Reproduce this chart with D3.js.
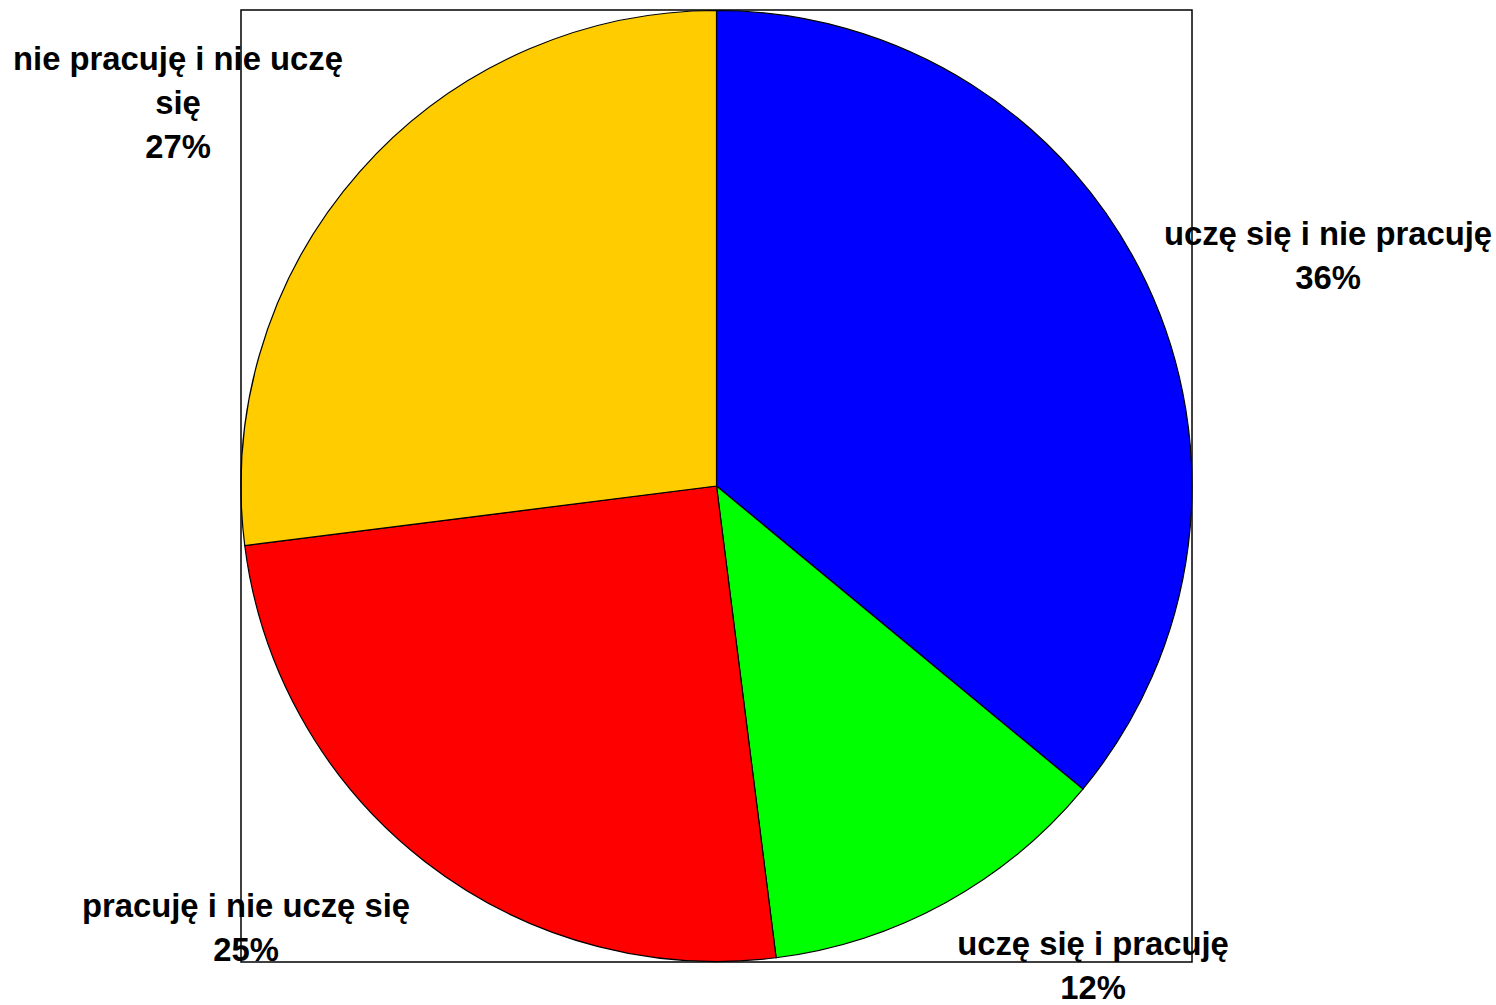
<!DOCTYPE html>
<html>
<head>
<meta charset="utf-8">
<script src="https://cdn.jsdelivr.net/npm/d3@7"></script>
<style>
  html, body { margin: 0; padding: 0; background: #fff; }
  svg { display: block; }
  .lbl { font-family: "Liberation Sans", Arial, sans-serif; font-weight: bold; font-size: 32.8px; fill: #000; }
</style>
</head>
<body>
<div id="vis"></div>
<script>
// slices, clockwise from 12 o'clock
var categories = ["uczę się i nie pracuję", "uczę się i pracuję", "pracuję i nie uczę się", "nie pracuję i nie uczę się"];
var shares = [36, 12, 25, 27];
var colours = ["#0000ff", "#00ff00", "#ff0000", "#ffcc00"];

var width = 1496, height = 1005;
// plot area (square frame around the pie)
var frame = {x: 241, y: 10, w: 951, h: 952};
var cx = frame.x + frame.w / 2, cy = frame.y + frame.h / 2;
var radius = frame.w / 2;

// label anchors: centre x and first baseline, one per slice
var labelPos = [[1328, 245], [1093, 955], [246, 917], [178, 70]];
var lineStep = 44;
var wrapWidth = 350;

var svg = d3.select("#vis").append("svg")
    .attr("width", width)
    .attr("height", height);

var data = categories.map(function(c, i){ return {name: c, value: shares[i], colour: colours[i]}; });

var pie = d3.pie().sort(null).value(function(d){ return d.value; });
var arc = d3.arc().innerRadius(0).outerRadius(radius);

var g = svg.append("g").attr("transform", "translate(" + cx + "," + cy + ")");

g.selectAll(".slice")
    .data(pie(data))
    .enter()
    .append("path")
    .attr("class", "slice")
    .attr("d", arc)
    .attr("fill", function(d){ return d.data.colour; })
    .attr("stroke", "#000")
    .attr("stroke-width", 1.2);

// labels with simple word wrap
var total = d3.sum(shares);
data.forEach(function(d, i){
    var t = svg.append("text")
        .attr("class", "lbl")
        .attr("text-anchor", "middle");
    var words = d.name.split(" ");
    var lines = [];
    var cur = [];
    var probe = t.append("tspan");
    words.forEach(function(w){
        var test = cur.concat([w]).join(" ");
        probe.text(test);
        if (probe.node().getComputedTextLength() > wrapWidth && cur.length){
            lines.push(cur.join(" "));
            cur = [w];
        } else {
            cur.push(w);
        }
    });
    lines.push(cur.join(" "));
    probe.remove();
    lines.push(Math.round(d.value / total * 100) + "%");

    lines.forEach(function(line, k){
        t.append("tspan")
            .attr("x", labelPos[i][0])
            .attr("y", labelPos[i][1] + k * lineStep)
            .text(line);
    });
});

// frame drawn last, it shows over the labels
svg.append("rect")
    .attr("x", frame.x)
    .attr("y", frame.y)
    .attr("width", frame.w)
    .attr("height", frame.h)
    .attr("fill", "none")
    .attr("stroke", "#000")
    .attr("stroke-width", 1.5);
</script>
</body>
</html>
